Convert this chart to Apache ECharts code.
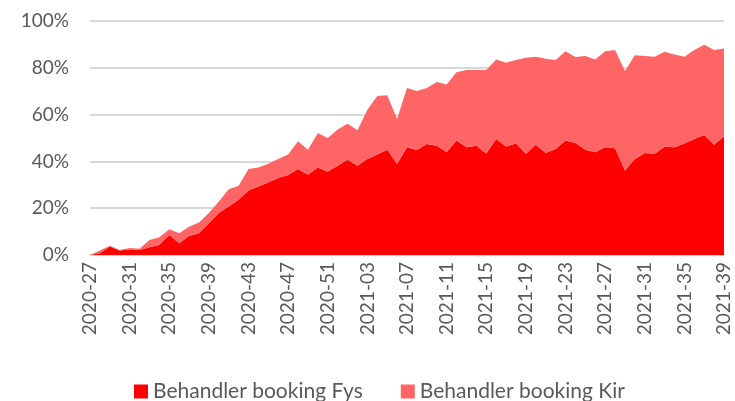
<!DOCTYPE html>
<html>
<head>
<meta charset="utf-8">
<script src="https://cdn.jsdelivr.net/npm/echarts@6/dist/echarts.min.js"></script>
<style>
  html, body { margin: 0; padding: 0; background: #fff; }
  #main { width: 735px; height: 401px; }
</style>
</head>
<body>
<div id="main"></div>
<script>
// uker 2020-27 .. 2021-39
var weeks = [
    '2020-27', '2020-28', '2020-29', '2020-30', '2020-31', '2020-32', '2020-33', '2020-34',
    '2020-35', '2020-36', '2020-37', '2020-38', '2020-39', '2020-40', '2020-41', '2020-42',
    '2020-43', '2020-44', '2020-45', '2020-46', '2020-47', '2020-48', '2020-49', '2020-50',
    '2020-51', '2020-52', '2021-01', '2021-02', '2021-03', '2021-04', '2021-05', '2021-06',
    '2021-07', '2021-08', '2021-09', '2021-10', '2021-11', '2021-12', '2021-13', '2021-14',
    '2021-15', '2021-16', '2021-17', '2021-18', '2021-19', '2021-20', '2021-21', '2021-22',
    '2021-23', '2021-24', '2021-25', '2021-26', '2021-27', '2021-28', '2021-29', '2021-30',
    '2021-31', '2021-32', '2021-33', '2021-34', '2021-35', '2021-36', '2021-37', '2021-38',
    '2021-39'
];

// andel i prosent
var fys = [
    0, 0.7, 3.6, 1.9, 2.4, 2.1, 3.3, 4.3, 8.6, 5.0, 8.1, 9.3, 13.6, 17.9, 20.7, 23.6,
    27.6, 29.3, 31.0, 32.9, 34.2, 36.7, 34.3, 37.4, 35.6, 38.1, 40.7, 38.1, 41.0, 42.9, 45.0, 38.9,
    46.0, 44.9, 47.4, 46.7, 43.9, 48.9, 46.0, 46.7, 43.4, 49.6, 46.4, 47.6, 43.3, 47.1, 43.6, 45.3,
    48.9, 47.9, 45.0, 43.9, 46.0, 45.6, 36.1, 41.0, 43.6, 43.3, 46.3, 46.0, 47.6, 49.6, 51.3, 47.1,
    50.7
];
var kir = [
    0, 1.2, 0.3, 0.2, 0.6, 0.6, 3.1, 3.3, 2.4, 4.3, 4.0, 4.6, 4.3, 5.0, 7.4, 6.0,
    9.1, 8.1, 8.0, 8.1, 8.7, 11.9, 10.7, 14.7, 14.4, 15.5, 15.4, 15.2, 21.1, 25.0, 23.3, 19.2,
    25.4, 25.2, 24.0, 27.2, 29.0, 29.2, 33.1, 32.4, 35.7, 34.0, 35.8, 35.7, 41.0, 37.6, 40.3, 38.0,
    38.2, 36.7, 40.0, 39.7, 41.1, 42.0, 42.5, 44.4, 41.4, 41.4, 40.6, 39.7, 37.1, 38.0, 38.6, 40.5,
    37.6
];

var seriesNames = ['Behandler booking Fys', 'Behandler booking Kir'];
var yTicks = [0, 20, 40, 60, 80, 100];

var myChart = echarts.init(document.getElementById('main'));

var option = {
    animation: false,
    textStyle: {
        fontFamily: 'Lato'
    },
    color: ['#ff0000', '#ff6565'],
    grid: {
        left: 90,
        right: 11,
        top: 21,
        bottom: 146
    },
    legend: {
        top: 376,
        left: 129,
        icon: 'rect',
        itemWidth: 14,
        itemHeight: 14,
        itemGap: 38,
        textStyle: {
            color: '#595959',
            fontSize: 21
        },
        data: seriesNames
    },
    xAxis: {
        type: 'category',
        boundaryGap: false,
        data: weeks,
        axisLine: {
            lineStyle: { color: '#d9d9d9', width: 2 }
        },
        axisTick: { show: false },
        axisLabel: {
            interval: 3,
            rotate: 90,
            margin: 7,
            color: '#595959',
            fontSize: 19
        }
    },
    yAxis: {
        type: 'value',
        min: yTicks[0],
        max: yTicks[yTicks.length - 1],
        interval: 20,
        axisLine: { show: false },
        axisTick: { show: false },
        axisLabel: {
            color: '#595959',
            fontSize: 19,
            margin: 21,
            formatter: '{value}%'
        },
        splitLine: {
            lineStyle: { color: '#d9d9d9', width: 2 }
        }
    },
    series: [{
        name: seriesNames[0],
        type: 'line',
        stack: 'total',
        data: fys,
        symbol: 'none',
        lineStyle: { width: 0 },
        areaStyle: { color: '#ff0000', opacity: 1 }
    }, {
        name: seriesNames[1],
        type: 'line',
        stack: 'total',
        data: kir,
        symbol: 'none',
        lineStyle: { width: 0 },
        areaStyle: { color: '#ff6565', opacity: 1 }
    }]
};

myChart.setOption(option);
</script>
</body>
</html>
